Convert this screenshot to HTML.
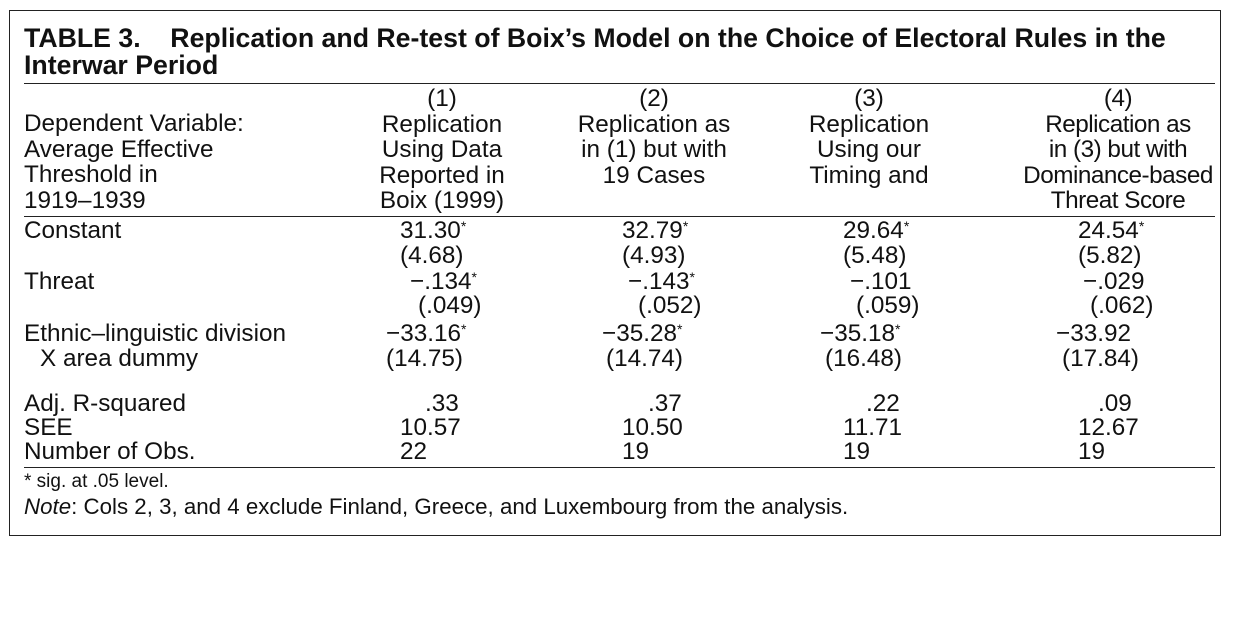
<!DOCTYPE html>
<html><head><meta charset="utf-8"><style>
body{margin:0;width:1233px;height:630px;background:#fff;position:relative;overflow:hidden;font-family:"Liberation Sans",Arial,sans-serif;color:#111;}
#box{position:absolute;left:9px;top:10px;width:1212px;height:526px;border:1.5px solid #222;box-sizing:border-box;}
.t{position:absolute;font-size:24.3px;line-height:25.5px;white-space:nowrap;}
.c{transform:translateX(-50%);text-align:center;}
.ttl{position:absolute;left:24px;font-weight:bold;font-size:26.7px;line-height:27px;white-space:nowrap;}
.rule{position:absolute;left:24px;width:1191px;height:0;border-top:1.5px solid #222;}
sup{font-size:14px;vertical-align:7px;line-height:0;}
</style></head><body>
<div id="box"></div>
<div class="ttl" style="top:25px">TABLE 3.&nbsp;&nbsp;&nbsp; Replication and Re-test of Boix’s Model on the Choice of Electoral Rules in the</div>
<div class="ttl" style="top:52px">Interwar Period</div>
<div class="rule" style="top:83px"></div>

<div class="t" style="left:24px;top:111px">Dependent Variable:<br>Average Effective<br>Threshold in<br>1919–1939</div>
<div class="t c" style="left:442px;top:86px">(1)<br>Replication<br>Using Data<br>Reported in<br>Boix (1999)</div>
<div class="t c" style="left:654px;top:86px">(2)<br>Replication as<br>in (1) but with<br>19 Cases</div>
<div class="t c" style="left:869px;top:86px">(3)<br>Replication<br>Using our<br>Timing and</div>
<div class="t c" style="left:1118px;top:86px;letter-spacing:-0.5px">(4)<br>Replication as<br>in (3) but with<br>Dominance-based<br>Threat Score</div>
<div class="rule" style="top:216px"></div>

<div class="t" style="left:24px;top:218px">Constant</div>
<div class="t" style="left:24px;top:269px">Threat</div>
<div class="t" style="left:24px;top:321px">Ethnic–linguistic division</div>
<div class="t" style="left:40px;top:346px">X area dummy</div>
<div class="t" style="left:24px;top:391px">Adj. R-squared</div>
<div class="t" style="left:24px;top:415px">SEE</div>
<div class="t" style="left:24px;top:439px">Number of Obs.</div>

<div class="t" style="left:400px;top:218px">31.30<sup>*</sup></div>
<div class="t" style="left:400px;top:243px">(4.68)</div>
<div class="t" style="left:410px;top:269px">−.134<sup>*</sup></div>
<div class="t" style="left:418px;top:293px">(.049)</div>
<div class="t" style="left:386px;top:321px">−33.16<sup>*</sup></div>
<div class="t" style="left:386px;top:346px">(14.75)</div>
<div class="t" style="left:425px;top:391px">.33</div>
<div class="t" style="left:400px;top:415px">10.57</div>
<div class="t" style="left:400px;top:439px">22</div>

<div class="t" style="left:622px;top:218px">32.79<sup>*</sup></div>
<div class="t" style="left:622px;top:243px">(4.93)</div>
<div class="t" style="left:628px;top:269px">−.143<sup>*</sup></div>
<div class="t" style="left:638px;top:293px">(.052)</div>
<div class="t" style="left:602px;top:321px">−35.28<sup>*</sup></div>
<div class="t" style="left:606px;top:346px">(14.74)</div>
<div class="t" style="left:648px;top:391px">.37</div>
<div class="t" style="left:622px;top:415px">10.50</div>
<div class="t" style="left:622px;top:439px">19</div>

<div class="t" style="left:843px;top:218px">29.64<sup>*</sup></div>
<div class="t" style="left:843px;top:243px">(5.48)</div>
<div class="t" style="left:850px;top:269px">−.101</div>
<div class="t" style="left:856px;top:293px">(.059)</div>
<div class="t" style="left:820px;top:321px">−35.18<sup>*</sup></div>
<div class="t" style="left:825px;top:346px">(16.48)</div>
<div class="t" style="left:866px;top:391px">.22</div>
<div class="t" style="left:843px;top:415px">11.71</div>
<div class="t" style="left:843px;top:439px">19</div>

<div class="t" style="left:1078px;top:218px">24.54<sup>*</sup></div>
<div class="t" style="left:1078px;top:243px">(5.82)</div>
<div class="t" style="left:1083px;top:269px">−.029</div>
<div class="t" style="left:1090px;top:293px">(.062)</div>
<div class="t" style="left:1056px;top:321px">−33.92</div>
<div class="t" style="left:1062px;top:346px">(17.84)</div>
<div class="t" style="left:1098px;top:391px">.09</div>
<div class="t" style="left:1078px;top:415px">12.67</div>
<div class="t" style="left:1078px;top:439px">19</div>

<div class="rule" style="top:467px"></div>
<div class="t" style="left:24px;top:471px;font-size:19px;line-height:22px">* sig. at .05 level.</div>
<div class="t" style="left:24px;top:495px;font-size:22.3px;line-height:24px"><i>Note</i>: Cols 2, 3, and 4 exclude Finland, Greece, and Luxembourg from the analysis.</div>
</body></html>
